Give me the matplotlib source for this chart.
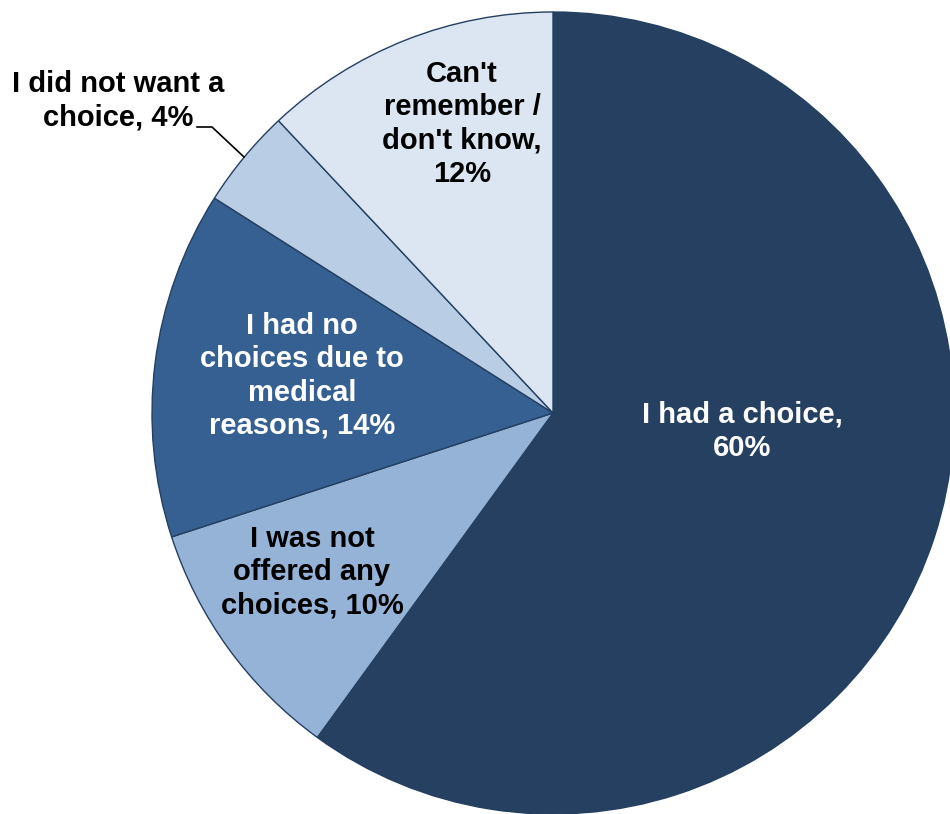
import matplotlib
matplotlib.use("Agg")
import matplotlib.pyplot as plt

plt.rcParams["font.family"] = ["Liberation Sans", "DejaVu Sans"]

labels = [
    "I had a choice,\n60%",
    "I was not\noffered any\nchoices, 10%",
    "I had no\nchoices due to\nmedical\nreasons, 14%",
    "I did not want a\nchoice, 4%",
    "Can't\nremember /\ndon't know,\n12%",
]
values = [60, 10, 14, 4, 12]
colors = ["#264061", "#95B3D7", "#366092", "#B9CDE5", "#DCE6F2"]
text_colors = ["white", "black", "white", "black", "black"]

W, H = 950, 814
fig = plt.figure(figsize=(W / 100, H / 100), dpi=100)
ax = fig.add_axes([0, 0, 1, 1])

cx, cy, r = 553, H - 413, 401
wedges, _ = ax.pie(
    values, colors=colors, startangle=90, counterclock=False,
    center=(cx, cy), radius=r, frame=True,
    wedgeprops=dict(edgecolor="#243F60", linewidth=1.0),
)
ax.set_xlim(0, W)
ax.set_ylim(0, H)
ax.set_aspect("equal")
ax.axis("off")

# label anchor points in pixel coordinates (y measured from the top)
label_pos = [(742, 431), (312, 572), (302, 376), (118, 101), (462, 124)]
for text, (x, y), tc in zip(labels, label_pos, text_colors):
    ax.text(x, H - y, text, ha="center", va="center", color=tc,
            fontsize=21, fontweight="bold", linespacing=1.24)

# leader line for the small slice
ax.plot([197, 212, 244], [H - 127, H - 127, H - 157], color="black", lw=1.2)

fig.savefig("out.png", dpi=100)
